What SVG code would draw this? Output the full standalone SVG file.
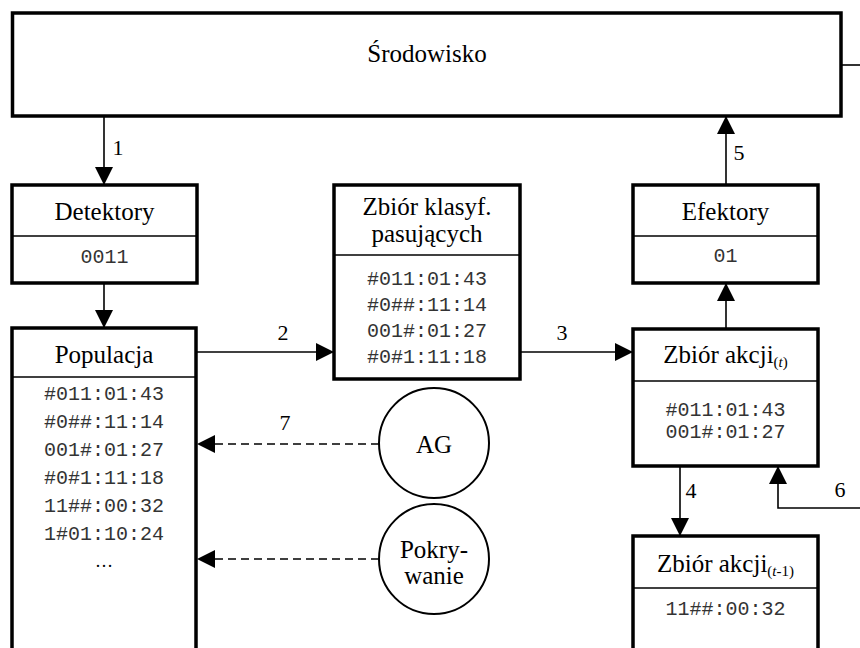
<svg xmlns="http://www.w3.org/2000/svg" width="860" height="648" viewBox="0 0 860 648">
  <style>
    .box { fill: #fff; stroke: #000; stroke-width: 3.5; }
    .sep { stroke: #000; stroke-width: 1.5; }
    .circ { fill: #fff; stroke: #000; stroke-width: 2; }
    .ttl { font-family: "Liberation Serif", "DejaVu Serif", "Times New Roman", serif; font-size: 25px; fill: #000; text-anchor: middle; }
    .lbl { font-family: "Liberation Serif", "DejaVu Serif", "Times New Roman", serif; font-size: 22px; fill: #000; text-anchor: middle; }
    .mono { font-family: "Liberation Mono", "DejaVu Sans Mono", "Courier New", monospace; font-size: 20px; fill: #333; text-anchor: middle; }
    .sub { font-size: 15px; }
    .edge { fill: none; stroke: #000; stroke-width: 1.6; }
    .dash { stroke-dasharray: 8 5; }
  </style>
  <defs>
    <marker id="arr" viewBox="0 0 18 18" refX="18" refY="9" markerWidth="18" markerHeight="18" markerUnits="userSpaceOnUse" orient="auto">
      <path d="M0,0 L18,9 L0,18 Z" fill="#000"/>
    </marker>
  </defs>

  <rect width="860" height="648" fill="#fff"/>

  <!-- connectors -->
  <g id="connectors">
    <line class="edge" x1="104" y1="116" x2="104" y2="185" marker-end="url(#arr)"/>
    <line class="edge" x1="104" y1="283" x2="104" y2="328" marker-end="url(#arr)"/>
    <line class="edge" x1="196" y1="352" x2="334" y2="352" marker-end="url(#arr)"/>
    <line class="edge" x1="520" y1="352" x2="633" y2="352" marker-end="url(#arr)"/>
    <line class="edge" x1="680" y1="466" x2="680" y2="536" marker-end="url(#arr)"/>
    <line class="edge" x1="726" y1="185" x2="726" y2="116" marker-end="url(#arr)"/>
    <line class="edge" x1="726" y1="329" x2="726" y2="283" marker-end="url(#arr)"/>
    <polyline class="edge" points="860,508 778,508 778,466" marker-end="url(#arr)"/>
    <line class="edge" x1="841" y1="65" x2="860" y2="65"/>
    <line class="edge dash" x1="379" y1="444" x2="197" y2="444" marker-end="url(#arr)"/>
    <line class="edge dash" x1="379" y1="559" x2="197" y2="559" marker-end="url(#arr)"/>
    <text class="lbl" x="118" y="155" font-family="Liberation Serif, DejaVu Serif, serif">1</text>
    <text class="lbl" x="283" y="340" font-family="Liberation Serif, DejaVu Serif, serif">2</text>
    <text class="lbl" x="562" y="340" font-family="Liberation Serif, DejaVu Serif, serif">3</text>
    <text class="lbl" x="691" y="498" font-family="Liberation Serif, DejaVu Serif, serif">4</text>
    <text class="lbl" x="739" y="160" font-family="Liberation Serif, DejaVu Serif, serif">5</text>
    <text class="lbl" x="840" y="497" font-family="Liberation Serif, DejaVu Serif, serif">6</text>
    <text class="lbl" x="285" y="430" font-family="Liberation Serif, DejaVu Serif, serif">7</text>
  </g>

  <g id="srodowisko">
    <rect class="box" x="12.5" y="13" width="828.5" height="103"/>
    <text class="ttl" x="427" y="62" font-family="Liberation Serif, DejaVu Serif, serif">Środowisko</text>
  </g>

  <g id="detektory">
    <rect class="box" x="12" y="185" width="185" height="98"/>
    <line class="sep" x1="12" y1="236" x2="197" y2="236"/>
    <text class="ttl" x="104.5" y="220" font-family="Liberation Serif, DejaVu Serif, serif">Detektory</text>
    <text class="mono" x="104.5" y="263">0011</text>
  </g>

  <g id="zbior-klasyf">
    <rect class="box" x="334" y="185" width="186" height="194"/>
    <line class="sep" x1="334" y1="255" x2="520" y2="255"/>
    <text class="ttl" x="427" y="215" font-family="Liberation Serif, DejaVu Serif, serif">Zbiór klasyf.</text>
    <text class="ttl" x="427" y="242" font-family="Liberation Serif, DejaVu Serif, serif">pasujących</text>
    <text class="mono" x="427" y="285">#011:01:43</text>
    <text class="mono" x="427" y="311">#0##:11:14</text>
    <text class="mono" x="427" y="337">001#:01:27</text>
    <text class="mono" x="427" y="363">#0#1:11:18</text>
  </g>

  <g id="efektory">
    <rect class="box" x="633" y="185" width="185" height="98"/>
    <line class="sep" x1="633" y1="236" x2="818" y2="236"/>
    <text class="ttl" x="725.5" y="220" font-family="Liberation Serif, DejaVu Serif, serif">Efektory</text>
    <text class="mono" x="725.5" y="262">01</text>
  </g>

  <g id="populacja">
    <rect class="box" x="12" y="328" width="184" height="340"/>
    <line class="sep" x1="12" y1="377" x2="196" y2="377"/>
    <text class="ttl" x="104" y="363" font-family="Liberation Serif, DejaVu Serif, serif">Populacja</text>
    <text class="mono" x="104" y="400">#011:01:43</text>
    <text class="mono" x="104" y="428">#0##:11:14</text>
    <text class="mono" x="104" y="456">001#:01:27</text>
    <text class="mono" x="104" y="484">#0#1:11:18</text>
    <text class="mono" x="104" y="512">11##:00:32</text>
    <text class="mono" x="104" y="540">1#01:10:24</text>
    <text class="ttl" x="104" y="567" style="font-size:18px" font-family="Liberation Serif, DejaVu Serif, serif">…</text>
  </g>

  <g id="zbior-akcji-t">
    <rect class="box" x="633" y="329" width="185" height="137"/>
    <line class="sep" x1="633" y1="381" x2="818" y2="381"/>
    <text class="ttl" x="725.5" y="363" font-family="Liberation Serif, DejaVu Serif, serif">Zbiór akcji<tspan class="sub" dy="4">(<tspan font-style="italic">t</tspan>)</tspan></text>
    <text class="mono" x="725.5" y="416">#011:01:43</text>
    <text class="mono" x="725.5" y="438">001#:01:27</text>
  </g>

  <g id="zbior-akcji-t-1">
    <rect class="box" x="633" y="536" width="185" height="132"/>
    <line class="sep" x1="633" y1="588" x2="818" y2="588"/>
    <text class="ttl" x="725.5" y="572" font-family="Liberation Serif, DejaVu Serif, serif">Zbiór akcji<tspan class="sub" dy="4">(<tspan font-style="italic">t</tspan>-1)</tspan></text>
    <text class="mono" x="725.5" y="615">11##:00:32</text>
  </g>

  <g id="ag">
    <circle class="circ" cx="434" cy="443" r="55"/>
    <text class="ttl" x="434" y="453" font-family="Liberation Serif, DejaVu Serif, serif">AG</text>
  </g>

  <g id="pokrywanie">
    <circle class="circ" cx="434" cy="559" r="55"/>
    <text class="ttl" x="434" y="558" font-family="Liberation Serif, DejaVu Serif, serif">Pokry-</text>
    <text class="ttl" x="434" y="584" font-family="Liberation Serif, DejaVu Serif, serif">wanie</text>
  </g>
</svg>
